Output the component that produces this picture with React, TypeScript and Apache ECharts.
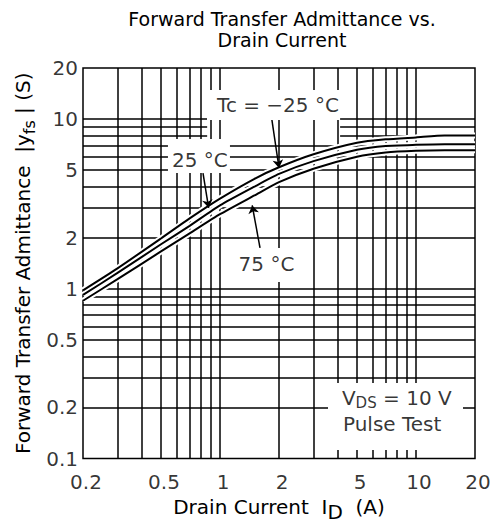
import React, { useEffect, useRef } from 'react';
import * as echarts from 'echarts';

// ---- data ----
const drainCurrent = [0.2, 0.3, 0.5, 0.7, 1, 1.5, 2, 3, 5, 7, 10, 14, 20];
const yfsTcMinus25 = [0.98, 1.32, 1.98, 2.6, 3.4, 4.45, 5.2, 6.2, 7.25, 7.6, 7.8, 8.0, 8.0];
const yfsTc25 = [0.92, 1.24, 1.83, 2.35, 3.1, 4.0, 4.75, 5.65, 6.6, 6.95, 7.05, 7.1, 7.1];
const yfsTc75 = [0.85, 1.14, 1.66, 2.12, 2.75, 3.55, 4.25, 5.1, 6.0, 6.35, 6.5, 6.55, 6.55];

const xTickValues = [0.2, 0.5, 1, 2, 5, 10, 20];
const xTickLabels = ['0.2', '0.5', '1', '2', '5', '10', '20'];
const yTickValues = [0.1, 0.2, 0.5, 1, 2, 5, 10, 20];
const yTickLabels = ['0.1', '0.2', '0.5', '1', '2', '5', '10', '20'];

const xGridValues = [0.3, 0.4, 0.5, 0.6, 0.7, 0.8, 0.9, 1, 2, 3, 4, 5, 6, 7, 8, 9, 10];
const yGridValues = [0.2, 0.3, 0.4, 0.5, 0.6, 0.7, 0.8, 0.9, 1, 2, 3, 4, 5, 6, 7, 8, 9, 10];
const yGridBrokenRows = [8, 9, 10];
const yGridBreak = [0.86, 4.1];

const X_MIN = 0.2;
const X_MAX = 20;
const Y_MIN = 0.1;
const Y_MAX = 20;

// annotation anchors (data coordinates)
const maskTc = [1.875, 12.1];
const mask25 = [0.781, 6.06];
const mask75 = [1.747, 1.38];
const maskVds = [7.86, 0.177];
const textTc = [1.976, 12.1];
const text25 = [0.79, 5.74];
const text75 = [1.727, 1.4];
const textVds = [4.19, 0.226];
const textPulse = [4.24, 0.159];
const arrowTc = [[1.84, 9.9], [2.0, 5.15]];
const arrow25 = [[0.819, 4.81], [0.875, 3.0]];
const arrow75 = [[1.6, 1.74], [1.46, 3.1]];

const FONT = "'DejaVu Sans', sans-serif";

export default function App() {
  const ref = useRef<HTMLDivElement>(null);

  useEffect(() => {
    document.body.style.margin = '0';
    const chart = echarts.init(ref.current!, null, { renderer: 'svg' });

    const gridSegments: any[] = [];
    xGridValues.forEach((v) => gridSegments.push({ coords: [[v, Y_MIN], [v, Y_MAX]] }));
    yGridValues.forEach((v) => {
      if (yGridBrokenRows.includes(v)) {
        gridSegments.push({ coords: [[X_MIN, v], [yGridBreak[0], v]] });
        gridSegments.push({ coords: [[yGridBreak[1], v], [X_MAX, v]] });
      } else {
        gridSegments.push({ coords: [[X_MIN, v], [X_MAX, v]] });
      }
    });

    const curves = [
      { name: 'Tc = -25 °C', values: yfsTcMinus25 },
      { name: 'Tc = 25 °C', values: yfsTc25 },
      { name: 'Tc = 75 °C', values: yfsTc75 },
    ];

    const halo = curves.map((c) => ({
      type: 'line',
      name: c.name + ' halo',
      z: 3,
      silent: true,
      symbol: 'none',
      smooth: 0.2,
      data: drainCurrent.map((x, i) => [x, c.values[i]]),
      lineStyle: { color: '#fff', width: 6 },
    }));
    const lines = curves.map((c) => ({
      type: 'line',
      name: c.name,
      z: 4,
      silent: true,
      symbol: 'none',
      smooth: 0.2,
      data: drainCurrent.map((x, i) => [x, c.values[i]]),
      lineStyle: { color: '#000', width: 2 },
    }));

    const txt = { fontFamily: FONT, fontSize: 20, color: '#000', lineHeight: 20 };
    const hidden = { color: 'rgba(0,0,0,0)' };
    const mask = (value: number[], width: number, height: number) => ({
      value,
      label: {
        show: true,
        position: 'inside',
        formatter: ' ',
        width,
        lineHeight: height,
        fontSize: 10,
        padding: 0,
        backgroundColor: '#ffffff',
        opacity: 1,
      },
    });
    const note = (value: number[], formatter: string, align = 'center') => ({
      value,
      label: {
        show: true,
        position: 'inside',
        align,
        formatter,
        rich: {
          t: { ...txt },
          s: { fontFamily: FONT, fontSize: 15, lineHeight: 14, color: '#000', padding: [10, 0, 0, 0] },
          u: { ...txt, lineHeight: 18 },
        },
      },
    });

    const option: any = {
      animation: false,
      backgroundColor: '#fff',
      textStyle: { fontFamily: FONT, color: '#000' },
      grid: {
        left: 83,
        top: 68,
        right: 21,
        bottom: 66.5,
        show: true,
        borderColor: '#000',
        borderWidth: 1.5,
        containLabel: false,
        outerBoundsMode: 'none',
      },
      graphic: [
        {
          type: 'text',
          x: 282,
          y: 8.5,
          z: 100,
          style: {
            text: 'Forward Transfer Admittance vs.\nDrain Current',
            fontFamily: FONT,
            fontSize: 19,
            lineHeight: 21,
            fill: '#000',
            align: 'center',
            verticalAlign: 'top',
          },
        },
      ],
      xAxis: {
        type: 'log',
        logBase: 10,
        min: X_MIN,
        max: X_MAX,
        axisLine: { show: false },
        axisTick: { show: false },
        axisLabel: { show: false },
        splitLine: { show: false },
        name: '{t|Drain Current  I}{s|D}{t|  (A)}',
        nameLocation: 'middle',
        nameGap: 38,
        nameTextStyle: {
          rich: {
            t: { ...txt },
            s: { ...txt, padding: [10, 0, 0, 0] },
          },
        },
      },
      yAxis: {
        type: 'log',
        logBase: 10,
        min: Y_MIN,
        max: Y_MAX,
        axisLine: { show: false },
        axisTick: { show: false },
        axisLabel: { show: false },
        splitLine: { show: false },
        name: '{t|Forward Transfer Admittance  |y}{s|fs}{t| | (S)}',
        nameLocation: 'middle',
        nameRotate: 90,
        nameGap: 50,
        nameTextStyle: {
          rich: {
            t: { ...txt },
            s: { fontFamily: FONT, fontSize: 16, lineHeight: 16, color: '#000', padding: [12, 0, 0, 0] },
          },
        },
      },
      series: [
        {
          type: 'lines',
          name: 'grid',
          coordinateSystem: 'cartesian2d',
          z: 1,
          silent: true,
          symbol: 'none',
          lineStyle: { color: '#000', width: 1.5, opacity: 1, curveness: 0 },
          data: gridSegments,
        },
        ...halo,
        ...lines,
        {
          type: 'lines',
          name: 'arrows',
          coordinateSystem: 'cartesian2d',
          z: 6,
          silent: true,
          symbol: ['none', 'arrow'],
          symbolSize: 8,
          lineStyle: { color: '#000', width: 1.5, opacity: 1, curveness: 0 },
          itemStyle: { color: '#000' },
          data: [{ coords: arrowTc }, { coords: arrow25 }, { coords: arrow75 }],
        },
        {
          type: 'scatter',
          name: 'label masks',
          z: 9,
          silent: true,
          clip: false,
          symbolSize: 1,
          itemStyle: hidden,
          data: [mask(maskTc, 133, 30), mask(mask25, 62, 34), mask(mask75, 65, 34), mask(maskVds, 135, 67)],
        },
        {
          type: 'scatter',
          name: 'annotations',
          z: 10,
          silent: true,
          clip: false,
          symbolSize: 1,
          itemStyle: hidden,
          data: [
            note(textTc, '{t|Tc = \u221225 °C}'),
            note(text25, '{t|25 °C}'),
            note(text75, '{t|75 °C}'),
            note(textVds, '{t|V}{s|DS}{t| = 10 V}', 'left'),
            note(textPulse, '{u|Pulse Test}', 'left'),
          ],
        },
        {
          type: 'scatter',
          name: 'x ticks',
          z: 10,
          silent: true,
          clip: false,
          symbolSize: 1,
          itemStyle: hidden,
          label: {
            show: true,
            position: 'inside',
            formatter: '{b}',
            offset: [3, 23],
            fontFamily: FONT,
            fontSize: 20,
            color: '#000',
          },
          data: xTickValues.map((v, i) => ({ name: xTickLabels[i], value: [v, Y_MIN] })),
        },
        {
          type: 'scatter',
          name: 'y ticks',
          z: 10,
          silent: true,
          clip: false,
          symbolSize: 1,
          itemStyle: hidden,
          label: {
            show: true,
            position: 'inside',
            align: 'right',
            formatter: '{b}',
            offset: [-5, 0],
            fontFamily: FONT,
            fontSize: 20,
            color: '#000',
          },
          data: yTickValues.map((v, i) => ({ name: yTickLabels[i], value: [X_MIN, v] })),
        },
      ],
    };

    chart.setOption(option);
    return () => chart.dispose();
  }, []);

  return <div ref={ref} style={{ width: 496, height: 525 }} />;
}
